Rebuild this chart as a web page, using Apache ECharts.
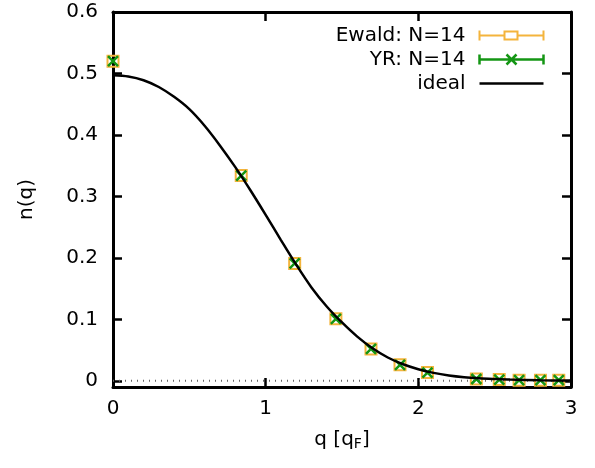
<!DOCTYPE html>
<html>
<head>
<meta charset="utf-8">
<script src="https://cdn.jsdelivr.net/npm/echarts@6/dist/echarts.min.js"></script>
<style>
  html, body { margin: 0; padding: 0; background: #fff; }
  #chart { width: 595px; height: 468px; }
</style>
</head>
<body>
<div id="chart"></div>
<script>
// momentum grid points (units of q_F) and n(q) values
var qPoints = [0, 0.84, 1.19, 1.46, 1.69, 1.88, 2.06, 2.38, 2.53, 2.66, 2.80, 2.92];
var ewaldN = [0.52, 0.334, 0.191, 0.101, 0.052, 0.026, 0.0135, 0.003, 0.002, 0.001, 0.001, 0.001];
var yrN = [0.52, 0.334, 0.191, 0.101, 0.052, 0.026, 0.0135, 0.003, 0.002, 0.001, 0.001, 0.001];

// ideal curve, sampled by eye
var idealQ = [0, 0.1, 0.2, 0.3, 0.4, 0.5, 0.6, 0.7, 0.8, 0.9, 1.0, 1.1, 1.2, 1.3, 1.4, 1.5, 1.6, 1.7, 1.8, 1.9, 2.0, 2.1, 2.2, 2.3, 2.4, 2.5, 2.6, 2.8, 3.0];
var idealN = [0.497, 0.495, 0.489, 0.478, 0.462, 0.442, 0.415, 0.383, 0.348, 0.310, 0.270, 0.229, 0.189, 0.152, 0.121, 0.095, 0.072, 0.053, 0.038, 0.027, 0.019, 0.013, 0.0088, 0.006, 0.0042, 0.003, 0.002, 0.001, 0.0005];

var xTicks = [0, 1, 2, 3];
var yTicks = [0, 0.1, 0.2, 0.3, 0.4, 0.5, 0.6];
var zeroQ = [0, 3];
var zeroN = [0, 0];

var orange = '#f4b43c';
var green = '#149614';
var font = 'DejaVu Sans';

function pairs(xs, ys) {
  return xs.map(function (x, i) { return [x, ys[i]]; });
}

var chart = echarts.init(document.getElementById('chart'));

var frameLine = { show: true, onZero: false, lineStyle: { color: '#000', width: 3 } };
var tick = { show: true, inside: true, length: 9, lineStyle: { color: '#000', width: 2.5 } };

var option = {
  animation: false,
  textStyle: { fontFamily: font },
  grid: { left: 113, right: 24, top: 12, bottom: 81 },
  legend: {
    orient: 'vertical',
    right: 44,
    top: 20,
    align: 'right',
    itemWidth: 64,
    itemHeight: 10,
    itemGap: 3,
    textStyle: { fontSize: 20, color: '#000', fontFamily: font, lineHeight: 21, padding: [0, 9, 0, 0] },
    data: [
      {
        name: 'Ewald: N=14',
        icon: 'path://M0,0L0,10M0,5L25,5M25,1L38,1L38,9L25,9ZM38,5L64,5M64,0L64,10',
        itemStyle: { color: 'none', borderColor: orange, borderWidth: 2 }
      },
      {
        name: 'YR: N=14',
        icon: 'path://M0,0L0,10M0,5L64,5M64,0L64,10M27,0L37,10M37,0L27,10',
        itemStyle: { color: 'none', borderColor: green, borderWidth: 2.5 }
      },
      {
        name: 'ideal',
        icon: 'path://M0,0M0,5L64,5M64,10',
        itemStyle: { color: 'none', borderColor: '#000', borderWidth: 2.5 }
      }
    ]
  },
  xAxis: [
    {
      type: 'value', min: 0, max: 3, interval: 1,
      axisLine: frameLine, axisTick: tick, splitLine: { show: false },
      axisLabel: { fontSize: 20, color: '#000', margin: 12, fontFamily: font },
      name: '{a|q [q}{s|F}{a|]}',
      nameLocation: 'middle',
      nameGap: 42,
      nameTextStyle: {
        rich: {
          a: { fontSize: 20, color: '#000', fontFamily: font },
          s: { fontSize: 14, color: '#000', fontFamily: font, padding: [8, 0, 0, 0] }
        }
      }
    },
    {
      type: 'value', min: 0, max: 3, interval: 1, position: 'top',
      axisLine: frameLine, axisTick: tick, splitLine: { show: false },
      axisLabel: { show: false }
    }
  ],
  yAxis: [
    {
      type: 'value', min: -0.01, max: 0.6,
      axisLine: frameLine,
      axisTick: Object.assign({ customValues: yTicks }, tick),
      splitLine: { show: false },
      axisLabel: { customValues: yTicks, fontSize: 20, color: '#000', margin: 15, fontFamily: font },
      name: 'n(q)',
      nameLocation: 'middle',
      nameGap: 76,
      nameRotate: 90,
      nameTextStyle: { fontSize: 20, color: '#000', fontFamily: font }
    },
    {
      type: 'value', min: -0.01, max: 0.6, position: 'right',
      axisLine: frameLine,
      axisTick: Object.assign({ customValues: yTicks }, tick),
      splitLine: { show: false },
      axisLabel: { show: false }
    }
  ],
  series: [
    {
      name: 'zero',
      type: 'line',
      data: pairs(zeroQ, zeroN),
      symbol: 'none',
      silent: true,
      lineStyle: { color: '#666', width: 2, type: [1, 5] },
      z: 1
    },
    {
      name: 'Ewald: N=14',
      type: 'scatter',
      data: pairs(qPoints, ewaldN),
      symbol: 'rect',
      symbolSize: 11,
      itemStyle: { color: 'rgba(255,255,255,0)', borderColor: orange, borderWidth: 2, opacity: 1 }
    },
    {
      name: 'YR: N=14',
      type: 'scatter',
      data: pairs(qPoints, yrN),
      symbol: 'path://M0,0L10,10M10,0L0,10',
      symbolSize: 10,
      itemStyle: { color: 'none', borderColor: green, borderWidth: 2.5, opacity: 1 }
    },
    {
      name: 'ideal',
      type: 'line',
      data: pairs(idealQ, idealN),
      smooth: 0.3,
      symbol: 'none',
      lineStyle: { color: '#000', width: 2.5 },
      itemStyle: { color: '#000' }
    }
  ]
};

chart.setOption(option);
</script>
</body>
</html>
